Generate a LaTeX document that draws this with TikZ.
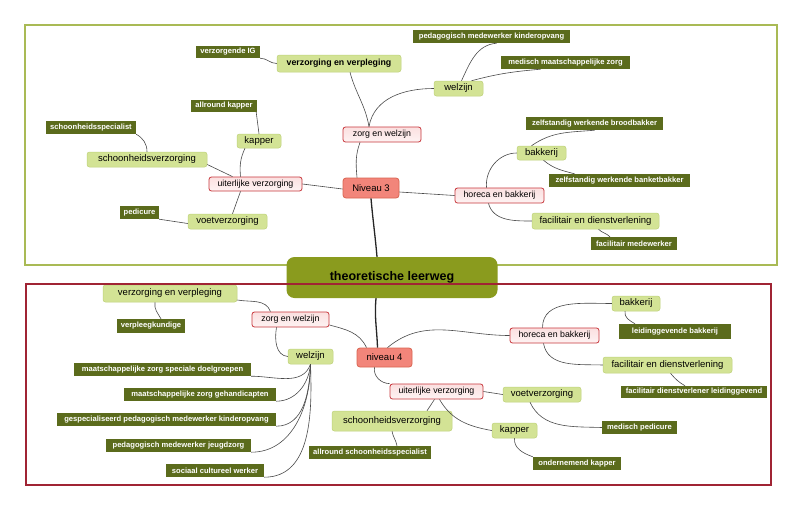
\documentclass[tikz,border=0pt]{standalone}
\usepackage{fontspec}
\setmainfont{Liberation Sans}
\definecolor{dkc}{HTML}{5B6B1C}
\definecolor{lgc}{HTML}{D3E395}
\definecolor{lgb}{HTML}{BFD27A}
\definecolor{pkb}{HTML}{C8373C}
\definecolor{pkt}{HTML}{FBE0E0}
\definecolor{nvc}{HTML}{F2857A}
\definecolor{nvb}{HTML}{DA6552}
\definecolor{rtc}{HTML}{8A9B1E}
\definecolor{tfc}{HTML}{A9BA55}
\definecolor{bfc}{HTML}{A02434}
\definecolor{lnc}{HTML}{4A4A4A}
\begin{document}
\begin{tikzpicture}[x=1pt,y=-1pt,
  dk/.style 2 args={fill=dkc, text=white, inner sep=0pt, minimum width=#1, minimum height=#2,
     font=\fontsize{7.6}{8}\selectfont\bfseries},
  lg/.style 2 args={fill=lgc, draw=lgb, line width=0.5pt, rounded corners=2.5pt, inner sep=0pt,
     minimum width=#1, minimum height=#2, font=\fontsize{9.5}{10}\selectfont},
  lgbold/.style 2 args={lg={#1}{#2}, font=\fontsize{8.8}{10}\selectfont\bfseries},
  pk/.style 2 args={top color=pkt, bottom color=white!60!pkt, draw=pkb, line width=0.8pt,
     rounded corners=2.5pt, inner sep=0pt, minimum width=#1, minimum height=#2,
     font=\fontsize{8.8}{10}\selectfont},
  nv/.style 2 args={fill=nvc, draw=nvb, line width=0.8pt, rounded corners=3pt, inner sep=0pt,
     minimum width=#1, minimum height=#2, font=\fontsize{9.5}{10}\selectfont},
  rootn/.style={fill=rtc, rounded corners=8pt, inner sep=0pt, minimum width=211, minimum height=41,
     font=\fontsize{12.5}{14}\selectfont\bfseries},
  ln/.style={draw=lnc, line width=0.6pt},
  thk/.style={draw=black!85, line width=1.3pt}]
\useasboundingbox[fill=white] (0,0) rectangle (800,509);

% top frame (behind root)
\draw[tfc, line width=1.2pt] (25,25) rectangle (777,265);

% ---------------- top: Niveau 3 ----------------
\node[dk={64}{12}] (tIG) at (228,52) {verzorgende IG};
\node[lgbold={124}{17}] (tVV) at (339,63.5) {verzorging en verpleging};
\node[pk={78}{15}] (tZW) at (382,134.5) {zorg en welzijn};
\node[dk={66}{12}] (tAK) at (224,106) {allround kapper};
\node[lg={44}{14}] (tKAP) at (259,141) {kapper};
\node[dk={90}{13}] (tSS) at (91,127.5) {schoonheidsspecialist};
\node[lg={120}{15}] (tSV) at (147,159.5) {schoonheidsverzorging};
\node[pk={93}{14}] (tUV) at (255.5,184) {uiterlijke verzorging};
\node[dk={39}{13}] (tPED) at (139.5,212.5) {pedicure};
\node[lg={79}{15}] (tVOET) at (227.5,221.5) {voetverzorging};
\node[nv={56}{20}] (N3) at (371,188) {Niveau 3};
\node[dk={157}{13}] (tPMK) at (491.5,36.5) {pedagogisch medewerker kinderopvang};
\node[dk={129}{13}] (tMMZ) at (565.5,62.5) {medisch maatschappelijke zorg};
\node[lg={49}{15}] (tWZ) at (458.5,88.5) {welzijn};
\node[dk={137}{13}] (tZWB) at (594.5,123.5) {zelfstandig werkende broodbakker};
\node[lg={49}{14}] (tBAK) at (541.5,153) {bakkerij};
\node[dk={141}{13}] (tZWK) at (619.5,180.5) {zelfstandig werkende banketbakker};
\node[pk={89}{15}] (tHB) at (499.5,195.5) {horeca en bakkerij};
\node[lg={127}{16}] (tFD) at (595.5,221) {facilitair en dienstverlening};
\node[dk={86}{13}] (tFM) at (634,243.5) {facilitair medewerker};

% root
\node[rootn] (R) at (392,277.5) {theoretische leerweg};

% ---------------- bottom: niveau 4 ----------------
\node[nv={55}{19}] (N4) at (384.5,357.5) {niveau 4};
\node[lg={134}{17}] (bVV) at (170,293.5) {verzorging en verpleging};
\node[dk={68}{14}] (bVK) at (151,326) {verpleegkundige};
\node[pk={77}{15}] (bZW) at (290.5,319.5) {zorg en welzijn};
\node[lg={45}{15}] (bWZ) at (310.5,356.5) {welzijn};
\node[dk={177}{13}] (bM1) at (162.5,369.5) {maatschappelijke zorg speciale doelgroepen};
\node[dk={152}{13}] (bM2) at (200,394.5) {maatschappelijke zorg gehandicapten};
\node[dk={219}{13}] (bGP) at (166.5,419.5) {gespecialiseerd pedagogisch medewerker kinderopvang};
\node[dk={145}{13}] (bPJ) at (178.5,445.5) {pedagogisch medewerker jeugdzorg};
\node[dk={98}{13}] (bSC) at (215,470.5) {sociaal cultureel werker};
\node[pk={89}{15}] (bHB) at (554.5,335.5) {horeca en bakkerij};
\node[lg={48}{15}] (bBAK) at (636,303.5) {bakkerij};
\node[dk={112}{15}] (bLB) at (675,331.5) {leidinggevende bakkerij};
\node[lg={129}{16}] (bFD) at (667.5,365) {facilitair en dienstverlening};
\node[dk={146}{12}] (bFDL) at (694,392) {facilitair dienstverlener leidinggevend};
\node[pk={93}{15}] (bUV) at (436.5,391.5) {uiterlijke verzorging};
\node[lg={78}{15}] (bVOET) at (542,394.5) {voetverzorging};
\node[dk={75}{13}] (bMP) at (639.5,427.5) {medisch pedicure};
\node[lg={120}{20}] (bSV) at (392,421) {schoonheidsverzorging};
\node[dk={122}{13}] (bAS) at (370,452.5) {allround schoonheidsspecialist};
\node[lg={45}{15}] (bKAP) at (514.5,430.5) {kapper};
\node[dk={88}{13}] (bOK) at (577,463.5) {ondernemend kapper};

% ---------------- connectors top ----------------
\draw[ln] (tIG.south east) to[out=0,in=180] (tVV.west);
\draw[ln] ([xshift=11]tVV.south) to[out=-75,in=100] ([xshift=-13]tZW.north);
\draw[ln] ([xshift=-22]tZW.south) to[out=-110,in=95] ([xshift=-14]N3.north);
\draw[ln] ([xshift=-13]tZW.north) to[out=80,in=180] (tWZ.west);
\draw[ln] ([xshift=3]tWZ.north) to[out=65,in=185] ([xshift=5]tPMK.south);
\draw[ln] ([xshift=13]tWZ.north) to[out=15,in=185] ([xshift=-25]tMMZ.south);
\draw[ln] ([xshift=-1]tAK.south east) -- (tKAP.north);
\draw[ln] (tSS.south east) to[out=-30,in=90] (tSV.north);
\draw[ln] ([yshift=-5]tSV.east) -- ([xshift=-23]tUV.north);
\draw[ln] ([xshift=-14]tKAP.south) to[out=-115,in=95] ([xshift=-15]tUV.north);
\draw[ln] (tUV.east) -- ([yshift=-1]N3.west);
\draw[ln] ([xshift=-15]tUV.south) -- ([xshift=5]tVOET.north);
\draw[ln] (tPED.south east) -- ([yshift=-2]tVOET.west);
\draw[ln] ([yshift=-4]N3.east) -- (tHB.west);
\draw[thk] (N3.south) to[out=-85,in=95] ([xshift=-15]R.north);
\draw[ln] ([xshift=-13]tHB.north) to[out=95,in=180] (tBAK.west);
\draw[ln] ([xshift=-11]tHB.south) to[out=-75,in=180] (tFD.west);
\draw[ln] ([xshift=-10]tBAK.north) to[out=35,in=185] (tZWB.south);
\draw[ln] ([xshift=2]tBAK.south) to[out=-40,in=165] ([xshift=-45]tZWK.north);
\draw[ln] ([xshift=3]tFD.south) to[out=-45,in=135] ([xshift=-24]tFM.north);

% ---------------- connectors bottom ----------------
\draw[thk] ([xshift=-16]R.south) to[out=-95,in=92] ([xshift=-7]N4.north);
\draw[ln] ([xshift=3]N4.north) to[out=40,in=180] (bHB.west);
\draw[ln] ([yshift=-5.5]bZW.east) to[out=-15,in=115] ([xshift=-18]N4.north);
\draw[ln] ([yshift=-6.5]bVV.east) to[out=-10,in=110] ([xshift=-20]bZW.north);
\draw[ln] ([xshift=-15]bVV.south) to[out=-100,in=120] ([xshift=10]bVK.north);
\draw[ln] ([xshift=-14]bZW.south) to[out=-100,in=175] (bWZ.west);
\draw[ln] (bWZ.south) to[out=-110,in=0] (bM1.south east);
\draw[ln] (bWZ.south) to[out=-95,in=0] (bM2.south east);
\draw[ln] (bWZ.south) to[out=-92,in=0] (bGP.south east);
\draw[ln] (bWZ.south) to[out=-90,in=0] (bPJ.south east);
\draw[ln] (bWZ.south) to[out=-88,in=0] (bSC.south east);
\draw[ln] ([xshift=-10]N4.south) to[out=-100,in=180] (bUV.north west);
\draw[ln] (bUV.east) -- (bVOET.west);
\draw[ln] ([xshift=-2]bUV.south) -- ([xshift=35]bSV.north);
\draw[ln] ([xshift=3]bUV.south) to[out=-60,in=170] (bKAP.west);
\draw[ln] (bSV.south) to[out=-80,in=100] ([xshift=27]bAS.north);
\draw[ln] ([xshift=-12]bVOET.south) to[out=-65,in=178] (bMP.west);
\draw[ln] (bKAP.south) to[out=-95,in=160] (bOK.north west);
\draw[ln] ([xshift=-12]bHB.north) to[out=90,in=180] (bBAK.west);
\draw[ln] ([xshift=-11]bHB.south) to[out=-80,in=178] (bFD.west);
\draw[ln] ([xshift=-11]bBAK.south) to[out=-100,in=150] ([xshift=-40]bLB.north);
\draw[ln] ([xshift=3]bFD.south) to[out=-50,in=150] ([xshift=-9]bFDL.north);

% bottom frame (in front of root)
\draw[bfc, line width=1.2pt] (26,284) rectangle (771,485);
\end{tikzpicture}
\end{document}
